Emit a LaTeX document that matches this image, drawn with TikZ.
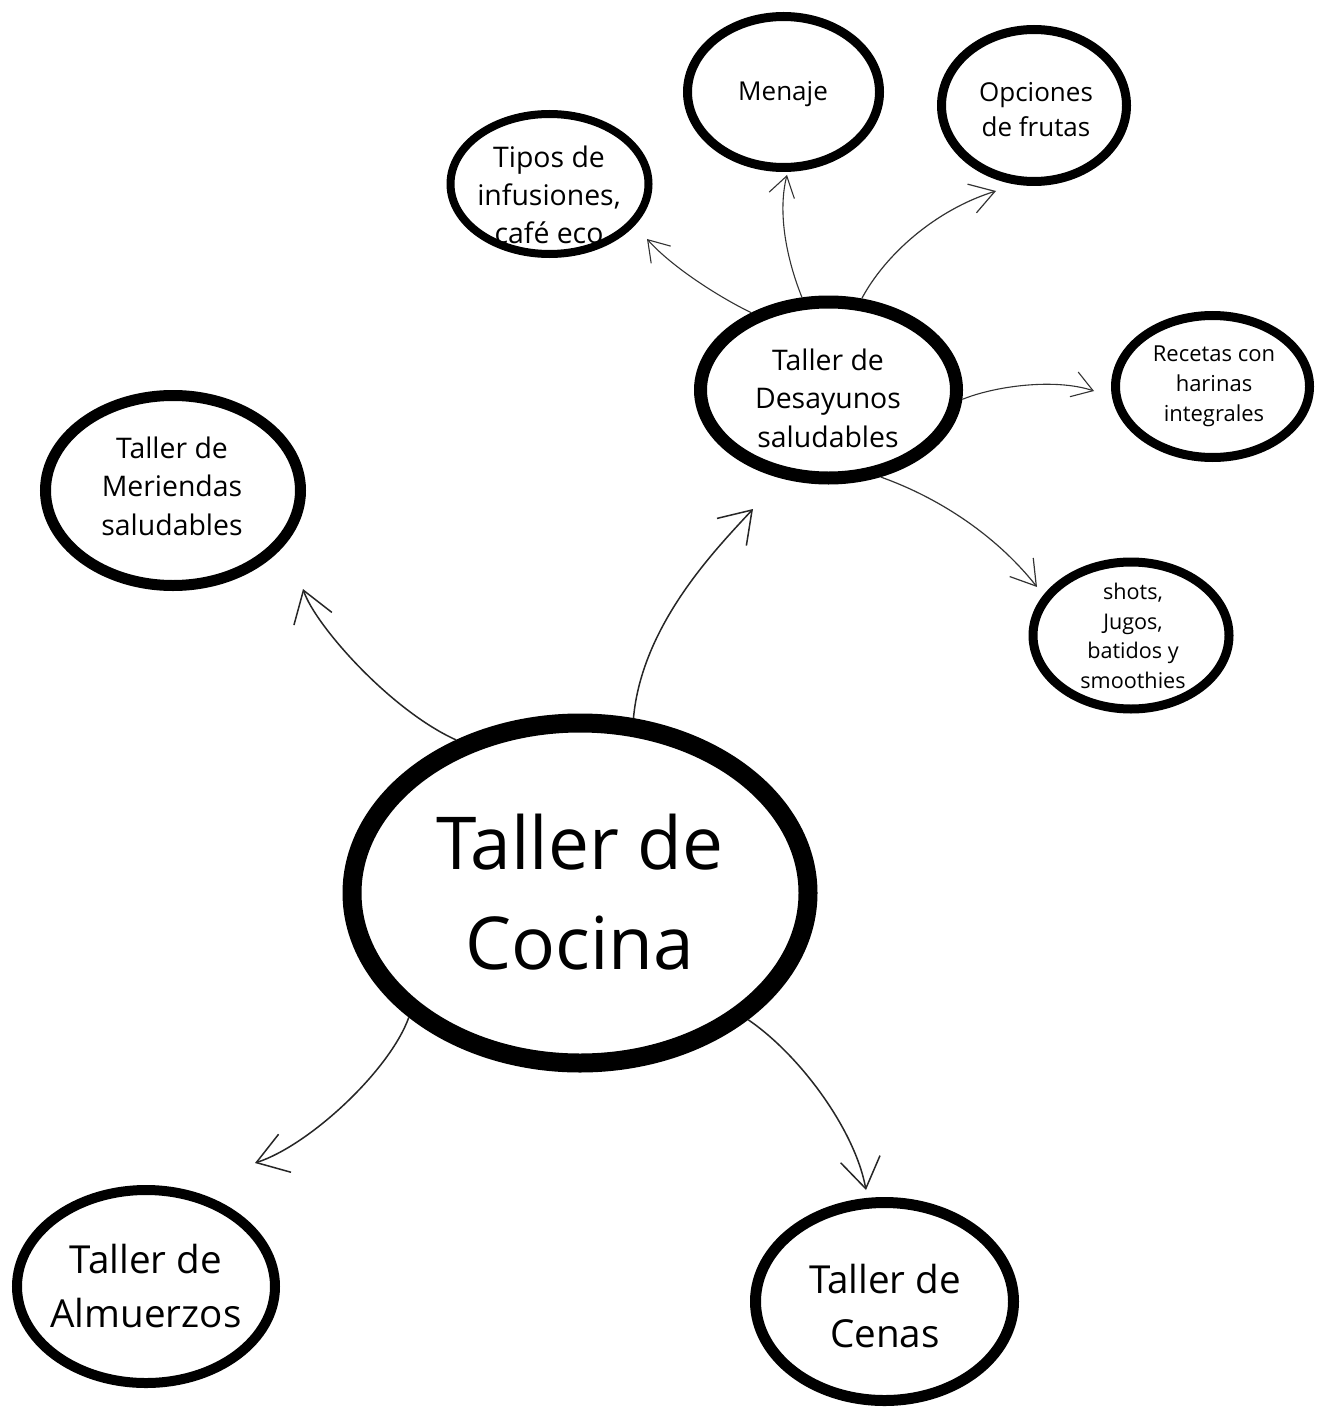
\documentclass[tikz,border=0pt]{standalone}
\usepackage{fontspec}
\setmainfont{Open Sans}
\usetikzlibrary{shapes.geometric,arrows.meta}
\begin{document}
\begin{tikzpicture}[x=0.5pt,y=-0.5pt,
  ell/.style={draw=black, ellipse, inner sep=0pt},
  txt/.style={align=center, inner sep=0pt, text=black},
  arrbig/.style={draw=black!85, line width=0.75pt, -{Straight Barb[length=15pt,width=20pt]}},
  arrsmall/.style={draw=black!80, line width=0.55pt, -{Straight Barb[length=10pt,width=13pt]}},
  arrmid/.style={draw=black!80, line width=0.6pt, -{Straight Barb[length=12pt,width=15pt]}},
]
\useasboundingbox (0,0) rectangle (1327,1407);
\fill[white] (0,0) rectangle (1327,1407);

% ellipses
\node[ell, line width=9.5pt, minimum width=228pt, minimum height=170pt] (cocina) at (580,893) {};
\node[ell, line width=6.5pt, minimum width=128pt, minimum height=88pt] (desayunos) at (828.5,390) {};
\node[ell, line width=5.5pt, minimum width=127.5pt, minimum height=95pt] (meriendas) at (173,490.5) {};
\node[ell, line width=5pt, minimum width=129pt, minimum height=96.5pt] (almuerzos) at (146,1286.5) {};
\node[ell, line width=5.5pt, minimum width=129pt, minimum height=99pt] (cenas) at (884.5,1301.5) {};
\node[ell, line width=4pt, minimum width=99pt, minimum height=70pt] (tipos) at (549.5,184) {};
\node[ell, line width=4.5pt, minimum width=96pt, minimum height=75.5pt] (menaje) at (783.5,92) {};
\node[ell, line width=4.5pt, minimum width=92.5pt, minimum height=76pt] (opciones) at (1034,105.5) {};
\node[ell, line width=4.5pt, minimum width=97pt, minimum height=71pt] (recetas) at (1212.5,386.5) {};
\node[ell, line width=4.5pt, minimum width=98pt, minimum height=73.5pt] (shots) at (1131,635.5) {};

% texts
\node[txt, font=\fontsize{36.5}{50}\selectfont] (cocina-t) at (580,892) {Taller de\\Cocina};
\node[txt, font=\fontsize{14.2}{19.3}\selectfont] (desayunos-t) at (828,398) {Taller de\\Desayunos\\saludables};
\node[txt, font=\fontsize{14.2}{19.3}\selectfont] (meriendas-t) at (172,486) {Taller de\\Meriendas\\saludables};
\node[txt, font=\fontsize{19.3}{27}\selectfont] (almuerzos-t) at (146,1286) {Taller de\\Almuerzos};
\node[txt, font=\fontsize{19.3}{27}\selectfont] (cenas-t) at (885,1306) {Taller de\\Cenas};
\node[txt, font=\fontsize{14.2}{19}\selectfont] (tipos-t) at (549,195) {Tipos de\\infusiones,\\café eco};
\node[txt, font=\fontsize{13}{17.5}\selectfont] (menaje-t) at (783,94) {Menaje};
\node[txt, font=\fontsize{13}{17.5}\selectfont] (opciones-t) at (1036,110) {Opciones\\de frutas};
\node[txt, font=\fontsize{11}{15}\selectfont] (recetas-t) at (1214,386) {Recetas con\\harinas\\integrales};
\node[txt, font=\fontsize{10.8}{14.8}\selectfont] (shots-t) at (1133,636) {shots,\\Jugos,\\batidos y\\smoothies};

% arrow tips (free ends)
\coordinate (tdes) at (753,509);
\coordinate (tmer) at (303,589);
\coordinate (talm) at (255,1163);
\coordinate (tcen) at (866,1190);
\coordinate (ttip) at (647,239);
\coordinate (tmen) at (787,175);
\coordinate (topc) at (996,191);
\coordinate (trec) at (1094,391);
\coordinate (tsho) at (1037,587);

% connectors
\draw[arrbig] (cocina.73) .. controls (642,625) and (715,550) .. (tdes);
\draw[arrbig] (cocina.129) .. controls (390,710) and (315,625) .. (tmer);
\draw[arrbig] (cocina.216) .. controls (390,1070) and (310,1145) .. (talm);
\draw[arrbig] (cocina.323) .. controls (800,1055) and (855,1130) .. (tcen);

\draw[arrsmall] (desayunos.135) .. controls (715,295) and (670,265) .. (ttip);
\draw[arrsmall] (desayunos.106) .. controls (785,255) and (778,210) .. (tmen);
\draw[arrmid] (desayunos.70) .. controls (885,255) and (935,210) .. (topc);
\draw[arrsmall] (desayunos.356) .. controls (995,386) and (1055,378) .. (trec);
\draw[arrmid] (desayunos.301) .. controls (945,500) and (1000,540) .. (tsho);
\end{tikzpicture}
\end{document}
